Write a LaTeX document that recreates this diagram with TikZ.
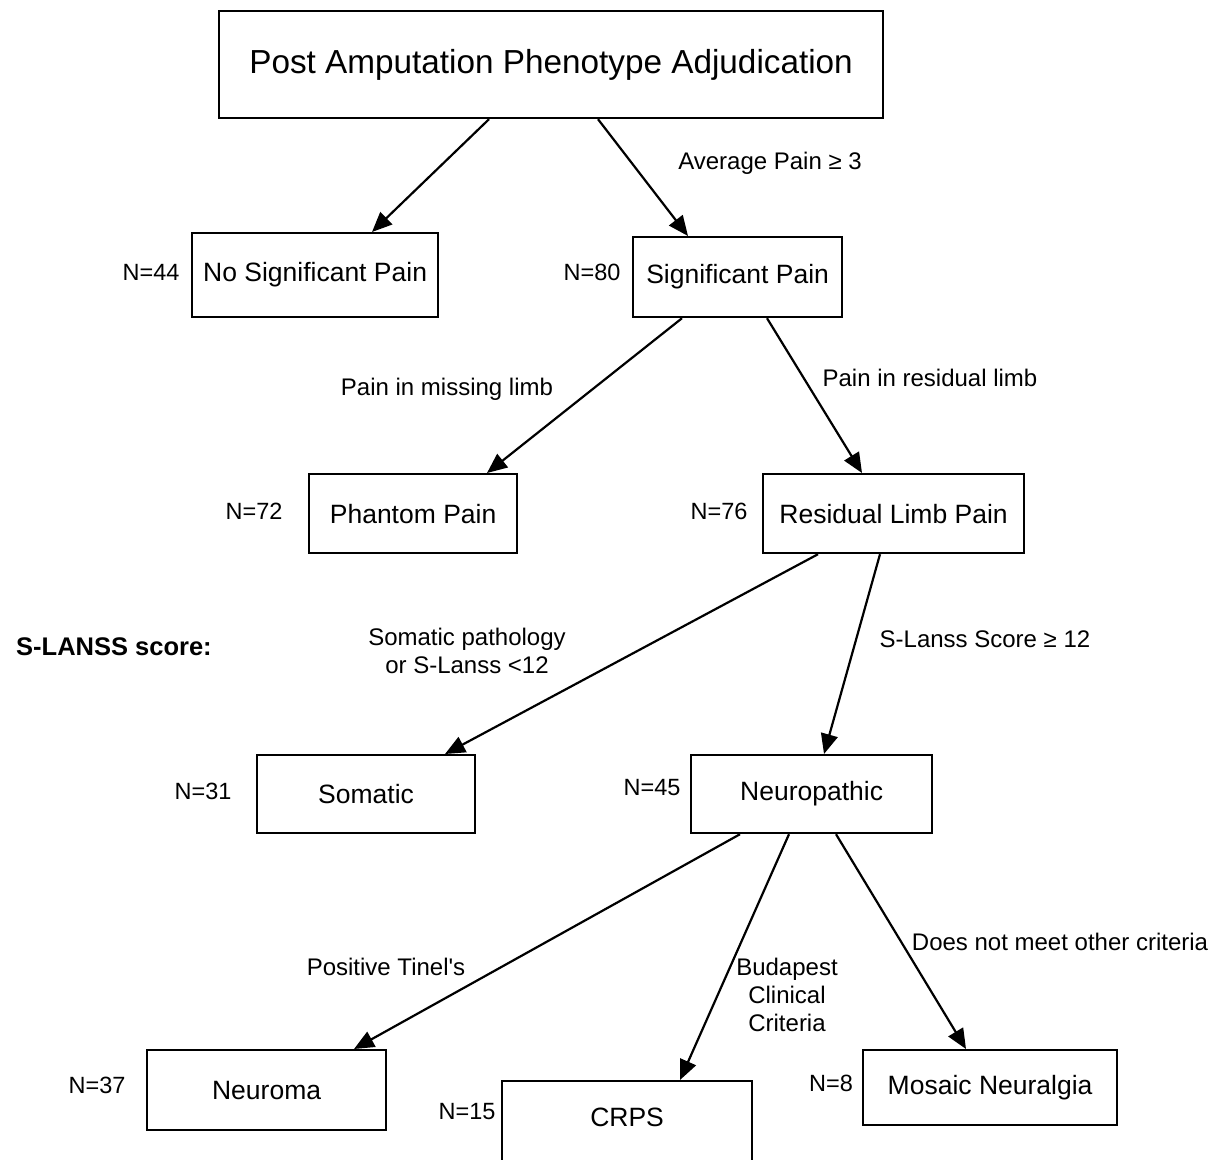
\documentclass[tikz,border=0pt]{standalone}
\usepackage{fontspec}
\setmainfont{Liberation Sans}
\usetikzlibrary{arrows.meta}
\begin{document}
\begin{tikzpicture}[x=1pt,y=-1pt,
  box/.style={draw,line width=2.2pt,inner sep=0pt,anchor=north west,align=center,font=\fontsize{26.5}{30}\selectfont},
  lbl/.style={inner sep=0pt,align=center,font=\fontsize{24}{28}\selectfont},
  nlbl/.style={inner sep=0pt,font=\fontsize{23.5}{28}\selectfont},
  arr/.style={line width=2.2pt,-{Triangle[length=20pt,width=17pt]}}]
\useasboundingbox (0,0) rectangle (1223,1159);
\clip (0,0) rectangle (1223,1159);
% boxes
\node[box,minimum width=664pt,minimum height=107pt,font=\fontsize{33.3}{36}\selectfont] (top) at (218,10) {Post Amputation Phenotype Adjudication};
\node[box,minimum width=246pt,minimum height=84pt] (nosig) at (191,232) {No Significant Pain};
\node[box,minimum width=209pt,minimum height=80pt] (sig) at (632,236) {Significant Pain};
\node[box,minimum width=208pt,minimum height=79pt] (phantom) at (308,473) {Phantom Pain};
\node[box,minimum width=261pt,minimum height=79pt] (resid) at (762,473) {Residual Limb Pain};
\node[box,minimum width=218pt,minimum height=78pt] (somatic) at (256,754) {Somatic};
\node[box,minimum width=241pt,minimum height=78pt] (neuro) at (690,754) {Neuropathic};
\node[box,minimum width=239pt,minimum height=80pt] (neuroma) at (146,1049) {Neuroma};
\node[box,minimum width=250pt,minimum height=84pt,text height=14pt,text depth=8pt] (crps) at (501,1080) {CRPS};
\node[box,minimum width=254pt,minimum height=75pt] (mosaic) at (862,1049) {Mosaic Neuralgia};
% N labels
\node[nlbl] (n44) at (151,272) {N=44};
\node[nlbl] (n80) at (592,272) {N=80};
\node[nlbl] (n72) at (254,511) {N=72};
\node[nlbl] (n76) at (719,511) {N=76};
\node[nlbl] (n31) at (203,791) {N=31};
\node[nlbl] (n45) at (652,788) {N=45};
\node[nlbl] (n37) at (97,1085) {N=37};
\node[nlbl] (n15) at (467,1112) {N=15};
\node[nlbl] (n8) at (831,1083) {N=8};
% side heading
\node[inner sep=0pt,font=\fontsize{25.5}{30}\selectfont\bfseries] (slanss) at (114,647) {S-LANSS score:};
% edge labels
\node[lbl] (l1) at (770,163) {Average Pain ≥ 3};
\node[lbl] (l2) at (447,389) {Pain in missing limb};
\node[lbl] (l3) at (930,378) {Pain in residual limb};
\node[lbl] (l4) at (467,651) {Somatic pathology\\or S-Lanss <12};
\node[lbl] (l5) at (985,639) {S-Lanss Score ≥ 12};
\node[lbl] (l6) at (386,967) {Positive Tinel\textquotesingle s};
\node[lbl] (l7) at (787,995) {Budapest\\Clinical\\Criteria};
\node[lbl] (l8) at (1060,942) {Does not meet other criteria};
% arrows
\draw[arr] ([xshift=271pt]top.south west) -- ([xshift=181pt]nosig.north west);
\draw[arr] ([xshift=380pt]top.south west) -- ([xshift=56pt]sig.north west);
\draw[arr] ([xshift=50pt]sig.south west) -- ([xshift=179pt]phantom.north west);
\draw[arr] ([xshift=135pt]sig.south west) -- ([xshift=100pt]resid.north west);
\draw[arr] ([xshift=56pt]resid.south west) -- ([xshift=189pt]somatic.north west);
\draw[arr] ([xshift=118pt]resid.south west) -- ([xshift=134pt]neuro.north west);
\draw[arr] ([xshift=50pt]neuro.south west) -- ([xshift=208pt]neuroma.north west);
\draw[arr] ([xshift=99pt]neuro.south west) -- ([xshift=179pt]crps.north west);
\draw[arr] ([xshift=146pt]neuro.south west) -- ([xshift=104pt]mosaic.north west);
\end{tikzpicture}
\end{document}
